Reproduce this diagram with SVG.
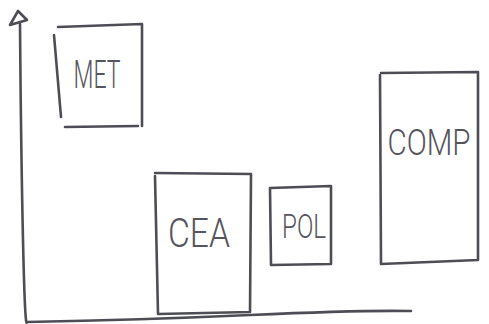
<svg xmlns="http://www.w3.org/2000/svg" width="489" height="324" viewBox="0 0 489 324">
  <style>
    .ink { fill: none; stroke: #4d4d55; stroke-width: 2.6; stroke-linecap: round; stroke-linejoin: round; }
    .lbl { font-family: Roboto, "Liberation Sans", "DejaVu Sans", sans-serif; font-weight: 300; fill: #55555d; text-anchor: middle; }
  </style>
  <rect width="489" height="324" fill="#ffffff"/>

  <!-- axes -->
  <g id="connectors">
    <path class="ink" d="M20,24 Q21,150 23,240 T27,322"/>
    <path class="ink" d="M18,11 L10,25 L27,20 Z"/>
    <path class="ink" d="M27,322 Q140,320 250,315 T411,311"/>
  </g>

  <!-- MET -->
  <g id="met">
    <path class="ink" d="M58,27 L142,24 L142,126"/>
    <path class="ink" d="M54,35 L61,117"/>
    <path class="ink" d="M65,127 L138,126"/>
    <text class="lbl" x="97" y="88" font-size="38" textLength="47" lengthAdjust="spacingAndGlyphs">MET</text>
  </g>

  <!-- CEA -->
  <g id="cea">
    <path class="ink" d="M155,173 L251,174 L250,312 L158,314 L155,176"/>
    <text class="lbl" x="199" y="247" font-size="41" textLength="62" lengthAdjust="spacingAndGlyphs">CEA</text>
  </g>

  <!-- POL -->
  <g id="pol">
    <path class="ink" d="M270,188 L331,186 L331,264 L271,265 Z"/>
    <text class="lbl" x="304" y="238" font-size="34" textLength="44" lengthAdjust="spacingAndGlyphs">POL</text>
  </g>

  <!-- COMP -->
  <g id="comp">
    <path class="ink" d="M381,73 L478,72 L478,260 L381,264 L380,75"/>
    <text class="lbl" x="429" y="155" font-size="36" textLength="83" lengthAdjust="spacingAndGlyphs">COMP</text>
  </g>
</svg>
